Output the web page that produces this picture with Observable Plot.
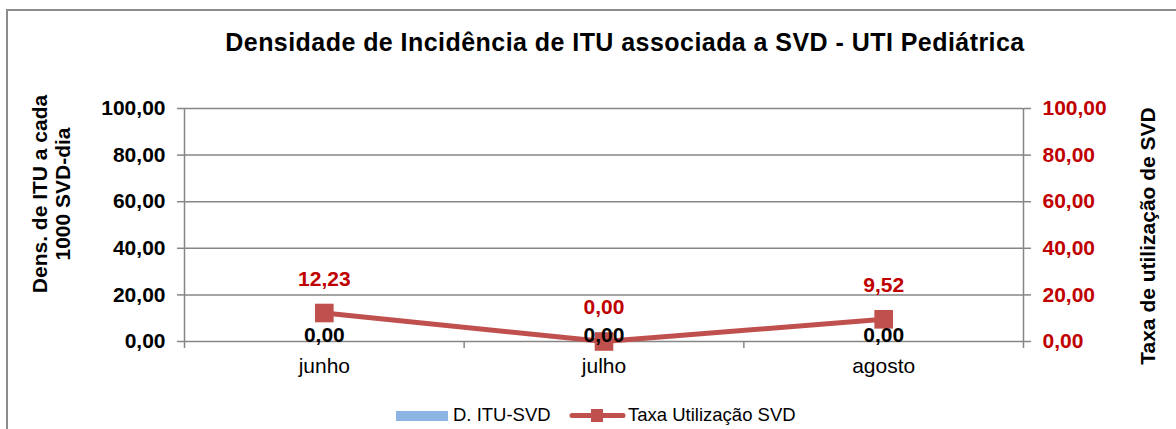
<!DOCTYPE html>
<html>
<head>
<meta charset="utf-8">
<script src="https://cdn.jsdelivr.net/npm/d3@7"></script>
<script src="https://cdn.jsdelivr.net/npm/@observablehq/plot@0.6"></script>
<style>
  html, body { margin: 0; padding: 0; background: #fff; }
  body { width: 1176px; height: 429px; position: relative; overflow: hidden; font-family: "Liberation Sans", Arial, sans-serif; }
  #border { position: absolute; left: 6px; top: 9px; width: 1300px; height: 600px; border-left: 2px solid #8c8c8c; border-top: 2px solid #8c8c8c; }
  #chart { position: absolute; left: 0; top: 0; }
  #title { position: absolute; left: 625px; top: 30px; transform: translateX(-50%); font-size: 25px; letter-spacing: 0.45px; font-weight: bold; white-space: nowrap; color: #000; line-height: 24px; }
  .ytitle { position: absolute; font-weight: bold; font-size: 21px; line-height: 23px; white-space: nowrap; text-align: center; color: #000; }
  #ytl { left: 51px; top: 194px; transform: translate(-50%, -50%) rotate(-90deg); }
  #ytr { left: 1147px; top: 236px; transform: translate(-50%, -50%) rotate(-90deg); }
  #legend { position: absolute; left: 0; top: 404px; width: 1176px; height: 22px; font-size: 18.5px; color: #000; }
  .lg { position: absolute; top: 0; line-height: 22px; white-space: nowrap; }
</style>
</head>
<body>
<div id="border"></div>
<div id="chart"></div>
<div id="title">Densidade de Incidência de ITU associada a SVD - UTI Pediátrica</div>
<div class="ytitle" id="ytl">Dens. de ITU a cada<br>1000 SVD-dia</div>
<div class="ytitle" id="ytr">Taxa de utilização de SVD</div>
<div id="legend"></div>
<script>
const months = ["junho", "julho", "agosto"];
const ituValues = [0, 0, 0];
const taxaValues = [12.23, 0, 9.52];
const yTicks = [0, 20, 40, 60, 80, 100];
const seriesNames = ["D. ITU-SVD", "Taxa Utilização SVD"];
const seriesColors = ["#8DB4E2", "#C0504D"];

const fmt = v => v.toFixed(2).replace(".", ",");
const data = months.map((m, i) => ({ month: m, i, pos: i + 0.5, itu: ituValues[i], taxa: taxaValues[i] }));
const centers = data.map(d => d.pos);
const bounds = d3.range(months.length + 1);

const plot = Plot.plot({
  width: 1176,
  height: 429,
  marginTop: 108,
  marginBottom: 88,
  marginLeft: 184,
  marginRight: 153,
  style: { fontFamily: "Liberation Sans, Arial, sans-serif", background: "transparent", overflow: "visible" },
  x: { type: "linear", domain: [0, months.length], axis: null },
  y: { domain: [0, 100], axis: null },
  marks: [
    Plot.gridY(yTicks, { stroke: "#868686", strokeOpacity: 1, strokeWidth: 1.5 }),
    Plot.ruleX([0, months.length], { y1: 0, y2: 100, stroke: "#868686", strokeWidth: 1.5 }),
    Plot.axisY(yTicks, { anchor: "left", tickSize: 7, tickPadding: 12, tickFormat: fmt, fontSize: 21, fontWeight: "bold", fill: "#000", stroke: "#868686", strokeWidth: 1.5, label: null }),
    Plot.axisY(yTicks, { anchor: "right", tickSize: 7, tickPadding: 12, tickFormat: fmt, fontSize: 21, fontWeight: "bold", fill: "#C00000", stroke: "#868686", strokeWidth: 1.5, label: null }),
    Plot.axisX(bounds, { anchor: "bottom", tickSize: 7, tickFormat: () => "", stroke: "#868686", strokeWidth: 1.5, label: null }),
    Plot.axisX(centers, { anchor: "bottom", tickSize: 0, tickPadding: 17, tickFormat: d => months[Math.floor(d)], fontSize: 21, fill: "#000", label: null }),
    Plot.rectY(data, { x1: "i", x2: d => d.i + 1, y: "itu", inset: 60, fill: seriesColors[0] }),
    Plot.line(data, { x: "pos", y: "taxa", stroke: seriesColors[1], strokeWidth: 5, strokeLinejoin: "round" }),
    Plot.dot(data, { x: "pos", y: "taxa", symbol: "square", r: 10.5, fill: seriesColors[1], stroke: null }),
    Plot.text(data, { x: "pos", y: "itu", text: d => fmt(d.itu), dy: -6, fontSize: 21, fontWeight: "bold", fill: "#000" }),
    Plot.text(data, { x: "pos", y: "taxa", text: d => fmt(d.taxa), dy: -34, fontSize: 21, fontWeight: "bold", fill: "#C00000" })
  ]
});
document.getElementById("chart").appendChild(plot);

// legend
const lg = document.getElementById("legend");
lg.innerHTML = `
  <div class="lg" style="left:396px;top:7px;width:52px;height:10px;background:${seriesColors[0]}"></div>
  <div class="lg" style="left:453px">${seriesNames[0]}</div>
  <svg class="lg" style="left:569px;top:4px" width="57" height="15">
    <line x1="3" y1="7.5" x2="54" y2="7.5" stroke="${seriesColors[1]}" stroke-width="5" stroke-linecap="round"/>
    <rect x="22" y="1" width="12" height="13" fill="${seriesColors[1]}"/>
  </svg>
  <div class="lg" style="left:628px">${seriesNames[1]}</div>`;
</script>
</body>
</html>
